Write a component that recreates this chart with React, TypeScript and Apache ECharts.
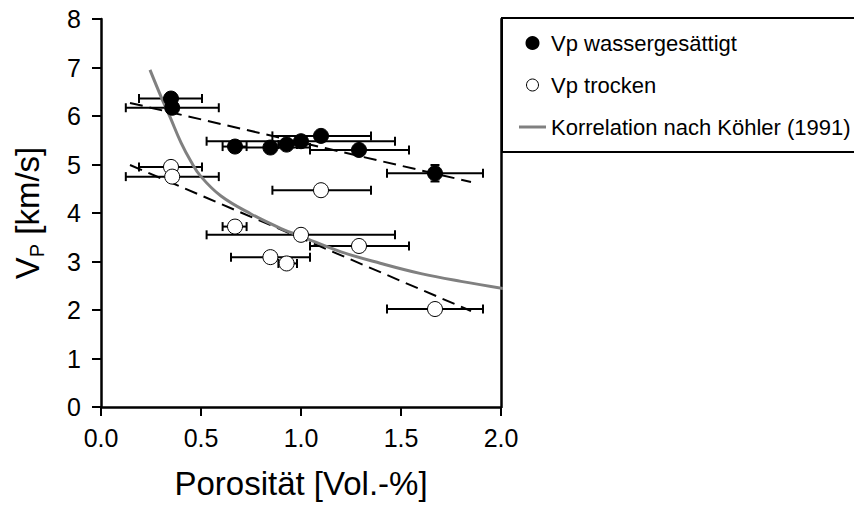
import React, { useEffect, useRef } from "react";
import * as echarts from "echarts";

// Porosity (x) with horizontal error ranges
const porosity = [0.35, 0.356, 0.67, 0.847, 0.928, 1.0, 1.1, 1.29, 1.67];
const porosityLow = [0.19, 0.124, 0.608, 0.65, 0.887, 0.528, 0.857, 1.045, 1.43];
const porosityHigh = [0.505, 0.589, 0.728, 1.045, 0.98, 1.47, 1.35, 1.54, 1.91];

// Vp water saturated / dry
const vpWet = [6.36, 6.17, 5.37, 5.35, 5.41, 5.48, 5.59, 5.3, 4.82];
const vpWetErr = [0, 0, 0, 0, 0, 0, 0, 0, 0.17];
const vpDry = [4.95, 4.75, 3.72, 3.09, 2.96, 3.55, 4.47, 3.32, 2.02];
const vpDryErr = [0, 0, 0, 0, 0, 0, 0, 0, 0];

// Linear trend lines (end points)
const trendX = [0.145, 1.85];
const trendWet = [6.27, 4.64];
const trendDry = [4.99, 1.98];

// Korrelation nach Köhler (1991)
const kohlerX = [0.245, 0.3, 0.345, 0.4, 0.45, 0.5, 0.6, 0.75, 0.9, 1.0, 1.2, 1.4, 1.6, 1.8, 2.03];
const kohlerY = [6.95, 6.4, 5.98, 5.45, 5.06, 4.75, 4.35, 3.98, 3.68, 3.52, 3.2, 2.96, 2.75, 2.59, 2.43];

const xTicks = ["0.0", "0.5", "1.0", "1.5", "2.0"];
const yTicks = ["0", "1", "2", "3", "4", "5", "6", "7", "8"];

const FONT = "Liberation Sans, Arial, sans-serif";

function errData(ys: number[], yErr: number[]) {
  return porosity.map((x, i) => [x, ys[i], porosityLow[i], porosityHigh[i], ys[i] - yErr[i], ys[i] + yErr[i]]);
}

function renderErr(params: any, api: any) {
  const y = api.value(1);
  const xl = api.value(2);
  const xh = api.value(3);
  const yl = api.value(4);
  const yh = api.value(5);
  const x = api.value(0);
  const a = api.coord([xl, y]);
  const b = api.coord([xh, y]);
  const cap = 4.5;
  const st = { stroke: "#000", lineWidth: 2 };
  const children: any[] = [
    { type: "line", shape: { x1: a[0], y1: a[1], x2: b[0], y2: b[1] }, style: st },
    { type: "line", shape: { x1: a[0], y1: a[1] - cap, x2: a[0], y2: a[1] + cap }, style: st },
    { type: "line", shape: { x1: b[0], y1: b[1] - cap, x2: b[0], y2: b[1] + cap }, style: st },
  ];
  if (yh > yl) {
    const c = api.coord([x, yl]);
    const d = api.coord([x, yh]);
    children.push(
      { type: "line", shape: { x1: c[0], y1: c[1], x2: d[0], y2: d[1] }, style: st },
      { type: "line", shape: { x1: c[0] - cap, y1: c[1], x2: c[0] + cap, y2: c[1] }, style: st },
      { type: "line", shape: { x1: d[0] - cap, y1: d[1], x2: d[0] + cap, y2: d[1] }, style: st }
    );
  }
  return { type: "group", children };
}

export default function App() {
  const ref = useRef<HTMLDivElement>(null);
  useEffect(() => {
    if (!ref.current) return;
    const chart = echarts.init(ref.current, null, { renderer: "svg" });
    const axisLine = { show: true, lineStyle: { color: "#000", width: 2.5 } };
    const option: any = {
      animation: false,
      backgroundColor: "#fff",
      textStyle: { fontFamily: FONT },
      grid: { left: 101, right: 353, top: 19, bottom: 108, containLabel: false },
      legend: {
        orient: "vertical",
        left: 502,
        top: 18,
        padding: [13, 40, 13, 17],
        itemWidth: 27,
        itemHeight: 12,
        itemGap: 18,
        borderColor: "#000",
        borderWidth: 2,
        backgroundColor: "#fff",
        textStyle: { fontFamily: FONT, fontSize: 22, color: "#000", lineHeight: 24 },
        data: [
          { name: "Vp wassergesättigt", icon: "circle", itemStyle: { color: "#000", opacity: 1 } },
          { name: "Vp trocken", icon: "circle", itemStyle: { color: "#fff", borderColor: "#000", borderWidth: 1, opacity: 1 } },
          { name: "Korrelation nach Köhler (1991)", icon: "path://M0,0H27V3H0Z", itemStyle: { color: "#808080", borderWidth: 0 } },
        ],
      },
      xAxis: {
        type: "value",
        min: 0,
        max: 2,
        interval: 0.5,
        name: "Porosität [Vol.-%]",
        nameLocation: "middle",
        nameGap: 60,
        nameTextStyle: { fontFamily: FONT, fontSize: 33, color: "#000" },
        axisLine,
        axisTick: { show: true, inside: false, length: 9, lineStyle: { color: "#000", width: 2 } },
        axisLabel: {
          fontFamily: FONT,
          fontSize: 25,
          color: "#000",
          margin: 18,
          formatter: (v: number) => xTicks[Math.round(v / 0.5)] ?? "",
        },
        splitLine: { show: false },
      },
      yAxis: [
        {
          type: "value",
          min: 0,
          max: 8,
          interval: 1,
          name: "{v|V}{s|P}{v| [km/s]}",
          nameLocation: "middle",
          nameGap: 54,
          nameRotate: 90,
          nameTextStyle: {
            fontFamily: FONT,
            color: "#000",
            rich: {
              v: { fontFamily: FONT, fontSize: 33, lineHeight: 40, color: "#000" },
              s: { fontFamily: FONT, fontSize: 20, lineHeight: 20, verticalAlign: "bottom", color: "#000" },
            },
          },
          axisLine,
          axisTick: { show: true, inside: false, length: 9, lineStyle: { color: "#000", width: 2 } },
          axisLabel: {
            fontFamily: FONT,
            fontSize: 25,
            color: "#000",
            margin: 20,
            formatter: (v: number) => yTicks[Math.round(v)] ?? "",
          },
          splitLine: { show: false },
        },
        {
          type: "value",
          position: "right",
          min: 0,
          max: 8,
          interval: 1,
          axisLine,
          axisTick: { show: false },
          axisLabel: { show: false },
          splitLine: { show: false },
        },
      ],
      series: [
        {
          type: "custom",
          name: "errWet",
          renderItem: renderErr,
          data: errData(vpWet, vpWetErr),
          z: 1,
          silent: true,
        },
        {
          type: "custom",
          name: "errDry",
          renderItem: renderErr,
          data: errData(vpDry, vpDryErr),
          z: 1,
          silent: true,
        },
        {
          type: "line",
          name: "trendWet",
          data: trendX.map((x, i) => [x, trendWet[i]]),
          showSymbol: false,
          symbol: "none",
          lineStyle: { color: "#000", width: 2, type: [13, 7] },
          z: 2,
        },
        {
          type: "line",
          name: "trendDry",
          data: trendX.map((x, i) => [x, trendDry[i]]),
          showSymbol: false,
          symbol: "none",
          lineStyle: { color: "#000", width: 2, type: [13, 7] },
          z: 2,
        },
        {
          type: "line",
          name: "Korrelation nach Köhler (1991)",
          data: kohlerX.map((x, i) => [x, kohlerY[i]]),
          smooth: 0.4,
          showSymbol: false,
          symbol: "none",
          clip: false,
          color: "#808080",
          lineStyle: { color: "#808080", width: 3 },
          itemStyle: { color: "#808080" },
          z: 3,
        },
        {
          type: "scatter",
          name: "Vp wassergesättigt",
          data: porosity.map((x, i) => [x, vpWet[i]]),
          symbol: "circle",
          symbolSize: 15,
          itemStyle: { color: "#000", borderColor: "#000", borderWidth: 1, opacity: 1 },
          z: 4,
        },
        {
          type: "scatter",
          name: "Vp trocken",
          data: porosity.map((x, i) => [x, vpDry[i]]),
          symbol: "circle",
          symbolSize: 15,
          itemStyle: { color: "#fff", borderColor: "#000", borderWidth: 1, opacity: 1 },
          z: 4,
        },
      ],
    };
    chart.setOption(option);
    return () => chart.dispose();
  }, []);
  return (
    <div
      ref={ref}
      style={{ position: "absolute", left: 0, top: 0, width: 854, height: 515, background: "#fff" }}
    />
  );
}
